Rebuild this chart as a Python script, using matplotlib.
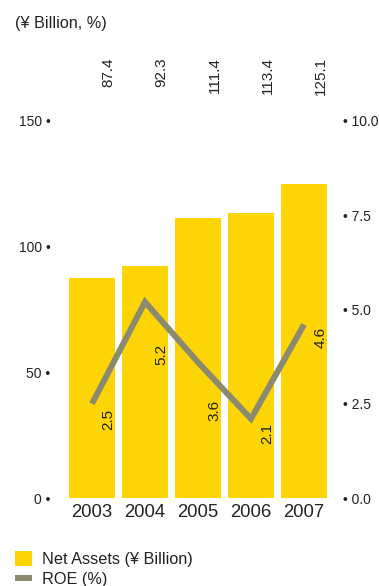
import numpy as np
import matplotlib
matplotlib.use("Agg")
import matplotlib.pyplot as plt
from matplotlib.patches import Patch
from matplotlib.lines import Line2D

plt.rcParams['font.family'] = ['Liberation Sans', 'DejaVu Sans']

years = ['2003', '2004', '2005', '2006', '2007']
net_assets = [87.4, 92.3, 111.4, 113.4, 125.1]
roe = [2.5, 5.2, 3.6, 2.1, 4.6]
left_ticks = [0, 50, 100, 150]
right_ticks = [0.0, 2.5, 5.0, 7.5, 10.0]

bar_color = '#FDD406'
line_color = '#8C8A6E'
text_color = '#222222'

# vertical offset (points) of each ROE label below its point
roe_label_drop = [4, 30, 27, 3, 2]

W, H = 379, 586
fig = plt.figure(figsize=(W / 100, H / 100), dpi=100)
ax = fig.add_axes([60.2 / W, 88 / H, 275.6 / W, 377 / H])
x = np.arange(len(years))

ax.bar(x, net_assets, width=0.87, color=bar_color, zorder=2)
ax.set_xlim(-0.6, 4.6)
ax.set_ylim(0, 150)
ax.set_xticks(x)
ax.set_xticklabels(years, fontsize=13.3, color=text_color)
ax.set_yticks(left_ticks)
ax.set_yticklabels([f'{t} \u2022' for t in left_ticks], fontsize=10, color=text_color)
ax.tick_params(axis='both', length=0)
ax.tick_params(axis='y', pad=7)
ax.tick_params(axis='x', pad=4)
for s in ax.spines.values():
    s.set_visible(False)

# bar values, rotated, in a row above the plot
for xi, v in zip(x, net_assets):
    ax.annotate(f'{v}', xy=(xi, 150), xytext=(12, 46), textcoords='offset points',
                rotation=90, ha='center', va='top', fontsize=11,
                color=text_color, annotation_clip=False)

ax2 = ax.twinx()
ax2.plot(x, roe, color=line_color, lw=4.3, solid_joinstyle='miter',
         solid_capstyle='butt', zorder=3)
ax2.set_ylim(0, 10)
ax2.set_yticks(right_ticks)
ax2.set_yticklabels([f'\u2022 {t:.1f}' for t in right_ticks], fontsize=10, color=text_color)
ax2.tick_params(axis='y', length=0, pad=5)
for s in ax2.spines.values():
    s.set_visible(False)

for xi, v, d in zip(x, roe, roe_label_drop):
    ax2.annotate(f'{v}', xy=(xi, v), xytext=(12, -d), textcoords='offset points',
                 rotation=90, ha='center', va='top', fontsize=11,
                 color=text_color)

fig.text(15 / W, 1 - 16 / H, '(\u00a5 Billion, %)', fontsize=11.7,
         color=text_color, va='top', ha='left')

handles = [Patch(facecolor=bar_color, edgecolor='none'),
           Line2D([0], [0], color=line_color, lw=4.3, solid_capstyle='butt')]
fig.legend(handles, ['Net Assets (\u00a5 Billion)', 'ROE (%)'],
           loc='upper left', bbox_to_anchor=(8 / W, 1 - 544 / H),
           frameon=False, fontsize=11.7, handlelength=1.1, handleheight=1.1,
           handletextpad=0.6, labelspacing=0.25, borderaxespad=0,
           labelcolor=text_color)

fig.savefig('out.png', dpi=100)
